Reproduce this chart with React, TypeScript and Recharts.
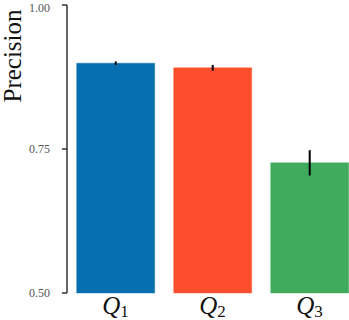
import { Bar, BarChart, Cell, ErrorBar, Label, XAxis, YAxis } from "recharts";

const categories = ["1", "2", "3"];
const precision = [0.899, 0.891, 0.726];
const spread = [0.003, 0.005, 0.022];
const colors = ["#066FAF", "#FD4F2D", "#41AB5D"];
const yTicks = [0.5, 0.75, 1.0];

const data = categories.map((c, i) => ({ q: c, precision: precision[i], err: spread[i] }));

const SERIF = "'Liberation Serif', 'DejaVu Serif', serif";

const QTick = ({ x, y, payload }: any) => (
  <text x={x} y={y + 13} textAnchor="middle" fontFamily={SERIF} fill="#111">
    <tspan fontSize={25} fontStyle="italic">Q</tspan>
    <tspan fontSize={17} dy={3}>{payload.value}</tspan>
  </text>
);

export default function App() {
  return (
    <div style={{ position: "absolute", left: 0, top: 0, width: 349, height: 320, overflow: "hidden", background: "#fff" }}>
      <BarChart
        width={360}
        height={320}
        data={data}
        margin={{ top: 5, right: 2, bottom: 0, left: 0 }}
        barCategoryGap="10%"
      >
        <XAxis
          dataKey="q"
          axisLine={false}
          tickLine={false}
          height={27}
          tick={<QTick />}
          interval={0}
        />
        <YAxis
          domain={[0.5, 1.0]}
          ticks={yTicks}
          width={67}
          axisLine={{ stroke: "#333", strokeWidth: 1.5 }}
          tickLine={{ stroke: "#333", strokeWidth: 1.5 }}
          tickSize={5}
          tickMargin={12}
          tickFormatter={(v) => Number(v).toFixed(2)}
          tick={{ fill: "#555", fontSize: 12, fontFamily: SERIF }}
        >
          <Label
            content={() => (
              <text
                x={21}
                y={56}
                transform="rotate(-90 21 56)"
                textAnchor="middle"
                fontFamily={SERIF}
                fontSize={25}
                fill="#111"
              >
                Precision
              </text>
            )}
          />
        </YAxis>
        <Bar dataKey="precision" isAnimationActive={false}>
          {data.map((d, i) => (
            <Cell key={d.q} fill={colors[i]} stroke={colors[i]} strokeOpacity={0.4} />
          ))}
          <ErrorBar dataKey="err" width={0} stroke="#000" strokeWidth={2} />
        </Bar>
      </BarChart>
    </div>
  );
}
